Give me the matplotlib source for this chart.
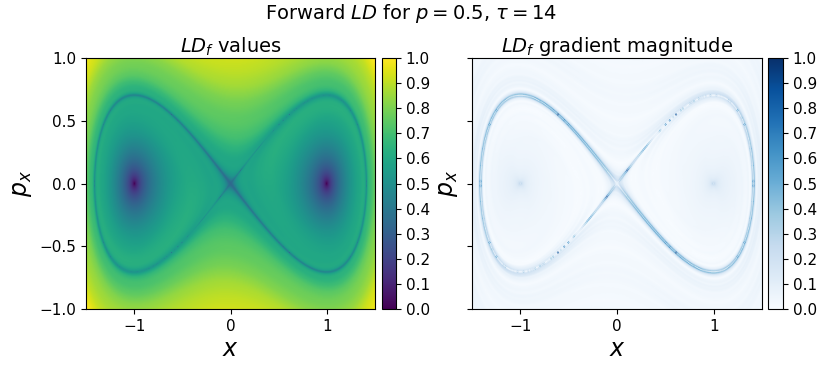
import numpy as np
import matplotlib
matplotlib.use("Agg")
import matplotlib.pyplot as plt

# Parameters of the Lagrangian descriptor (from the title)
p_exp = 0.5
tau = 14.0
x_range = [-1.5, 1.5]
px_range = [-1.0, 1.0]
nx, ny = 420, 300
dt = 0.02
cbar_ticks = [0.0, 0.1, 0.2, 0.3, 0.4, 0.5, 0.6, 0.7, 0.8, 0.9, 1.0]
x_ticks = [-1, 0, 1]
y_ticks = [-1.0, -0.5, 0.0, 0.5, 1.0]

# Duffing oscillator: x' = p, p' = x - x^3
def field(x, p):
    return p, x - x**3

xs = np.linspace(x_range[0], x_range[1], nx)
ps = np.linspace(px_range[0], px_range[1], ny)
X, P = np.meshgrid(xs, ps)
x = X.copy(); p = P.copy()
LD = np.zeros_like(x)

def integrand(x, p):
    fx, fp = field(x, p)
    return np.abs(fx)**p_exp + np.abs(fp)**p_exp

nsteps = int(round(tau / dt))
prev = integrand(x, p)
for _ in range(nsteps):
    k1x, k1p = field(x, p)
    k2x, k2p = field(x + 0.5*dt*k1x, p + 0.5*dt*k1p)
    k3x, k3p = field(x + 0.5*dt*k2x, p + 0.5*dt*k2p)
    k4x, k4p = field(x + dt*k3x, p + dt*k3p)
    x = x + dt/6*(k1x + 2*k2x + 2*k3x + k4x)
    p = p + dt/6*(k1p + 2*k2p + 2*k3p + k4p)
    cur = integrand(x, p)
    LD += 0.5*dt*(prev + cur)
    prev = cur

LDn = (LD - LD.min()) / (LD.max() - LD.min())
gy, gx = np.gradient(LDn, ps, xs)
G = np.sqrt(gx**2 + gy**2)
Gn = (G - G.min()) / (G.max() - G.min())

fig = plt.figure(figsize=(8.22, 3.65), dpi=100)
W, H = 822, 365
def rect(l, t, r, b):
    return [l/W, 1 - b/H, (r-l)/W, (b-t)/H]

ax1 = fig.add_axes(rect(86, 58, 375, 309))
cax1 = fig.add_axes(rect(382, 58, 396, 309))
ax2 = fig.add_axes(rect(472, 58, 762, 309))
cax2 = fig.add_axes(rect(768, 58, 783, 309))

ext = [x_range[0], x_range[1], px_range[0], px_range[1]]
im1 = ax1.imshow(LDn, origin='lower', extent=ext, cmap='viridis', aspect='auto',
                 vmin=0, vmax=1)
im2 = ax2.imshow(Gn, origin='lower', extent=ext, cmap='Blues', aspect='auto',
                 vmin=0, vmax=1)

for ax in (ax1, ax2):
    ax.set_xticks(x_ticks)
    ax.set_yticks(y_ticks)
    ax.set_xlabel(r'$x$', fontsize=17, labelpad=2)
    ax.tick_params(labelsize=11)
ax1.set_ylabel(r'$p_x$', fontsize=17)
ax2.set_ylabel(r'$p_x$', fontsize=17, labelpad=2)
ax2.set_yticklabels([])
ax1.set_title(r'$LD_f$ values', fontsize=14, pad=2)
ax2.set_title(r'$LD_f$ gradient magnitude', fontsize=14, pad=2)

for im, cax in ((im1, cax1), (im2, cax2)):
    cb = fig.colorbar(im, cax=cax)
    cb.set_ticks(cbar_ticks)
    cb.ax.tick_params(labelsize=11)

fig.suptitle(r'Forward $LD$ for $p = 0.5$, $\tau = 14$', fontsize=14, y=0.995)
fig.savefig('out.png', dpi=100)
